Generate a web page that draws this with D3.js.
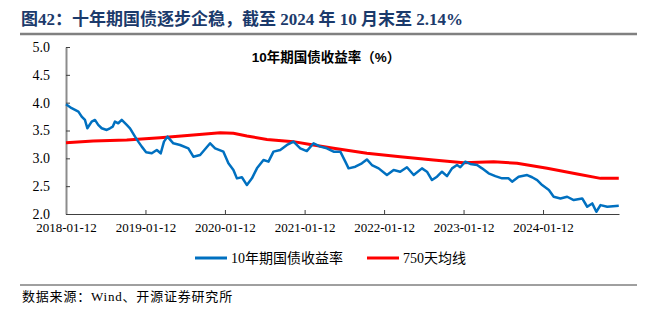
<!DOCTYPE html>
<html>
<head>
  <meta charset="UTF-8">
  <style>
    body { margin: 0; background: #fff; }
    svg { display: block; }
  </style>
</head>
<body>
<div id="chart_div"></div>
<script src="https://d3js.org/d3.v7.min.js"></script>
<script>

// ---- data ----
const yieldDates = ["2018-01-12","2018-02-07","2018-03-10","2018-03-25","2018-04-09","2018-04-20","2018-05-10","2018-05-25",
  "2018-06-09","2018-06-25","2018-07-18","2018-08-02","2018-08-15","2018-08-25","2018-09-09","2018-09-25","2018-10-18",
  "2018-11-02","2018-11-25","2018-12-10","2018-12-26","2019-01-15","2019-02-10","2019-03-05","2019-03-23","2019-04-07",
  "2019-04-23","2019-05-20","2019-06-20","2019-07-28","2019-08-20","2019-09-20","2019-11-05","2019-11-28","2020-01-05",
  "2020-01-28","2020-02-20","2020-03-07","2020-03-30","2020-04-22","2020-05-15","2020-06-07","2020-07-07","2020-07-30",
  "2020-08-22","2020-09-22","2020-10-23","2020-11-22","2020-12-23","2021-01-22","2021-02-22","2021-03-25","2021-04-24",
  "2021-05-25","2021-06-25","2021-07-18","2021-08-02","2021-09-02","2021-10-02","2021-10-25","2021-11-17","2021-12-18",
  "2022-01-25","2022-02-25","2022-03-27","2022-04-27","2022-05-28","2022-07-05","2022-07-28","2022-08-20","2022-09-12",
  "2022-10-05","2022-10-28","2022-11-20","2022-12-13","2022-12-28","2023-01-20","2023-02-12","2023-03-15","2023-04-07",
  "2023-05-07","2023-06-07","2023-07-08","2023-08-07","2023-08-23","2023-09-22","2023-10-31","2023-11-23","2023-12-16",
  "2024-01-08","2024-02-08","2024-03-01","2024-04-01","2024-05-02","2024-06-01","2024-07-10","2024-08-02","2024-08-25",
  "2024-09-13","2024-10-02","2024-11-02","2024-12-25"];
const yieldValues = [3.97,3.90,3.84,3.75,3.69,3.54,3.66,3.69,
  3.60,3.54,3.51,3.54,3.57,3.66,3.63,3.69,3.60,
  3.54,3.39,3.30,3.21,3.11,3.09,3.15,3.09,3.30,
  3.39,3.27,3.24,3.18,3.03,3.06,3.27,3.18,3.12,
  2.91,2.79,2.64,2.66,2.52,2.64,2.82,2.97,2.94,
  3.12,3.15,3.24,3.30,3.18,3.13,3.27,3.21,3.18,
  3.12,3.12,2.94,2.82,2.85,2.91,2.98,2.88,2.82,
  2.70,2.79,2.76,2.84,2.70,2.82,2.76,2.61,2.67,
  2.76,2.68,2.82,2.88,2.84,2.94,2.90,2.88,2.82,
  2.73,2.68,2.64,2.64,2.58,2.67,2.70,2.66,2.61,
  2.52,2.43,2.31,2.28,2.31,2.25,2.28,2.13,2.19,
  2.04,2.16,2.13,2.15];

const maDates = ["2018-01-12","2018-05-17","2018-10-18","2019-03-20","2019-08-20","2019-12-21","2020-02-20","2020-04-22",
  "2020-07-23","2020-11-22","2021-02-07","2021-05-25","2021-10-25","2022-03-27","2022-08-27","2023-01-12","2023-05-30",
  "2023-09-15","2024-01-31","2024-06-17","2024-10-02","2024-12-25"];
const maValues = [3.28,3.31,3.33,3.37,3.42,3.46,3.45,3.40,
  3.34,3.30,3.25,3.18,3.09,3.03,2.97,2.92,2.94,
  2.91,2.82,2.72,2.64,2.64];

const xTickLabels = ["2018-01-12","2019-01-12","2020-01-12","2021-01-12","2022-01-12","2023-01-12","2024-01-12"];
const yTicks = [2.0, 2.5, 3.0, 3.5, 4.0, 4.5, 5.0];
const seriesNames = ["10年期国债收益率", "750天均线"];

// ---- layout ----
let width = 652, height = 322;
const parse = d3.timeParse("%Y-%m-%d");
const fmt = d3.timeFormat("%Y-%m-%d");
const serif = "'Liberation Serif','Noto Sans CJK SC',serif";

let svg = d3.select("#chart_div")
  .append("svg")
  .attr("width", width)
  .attr("height", height);

// header
svg.append("text")
  .attr("x", 21).attr("y", 25)
  .style("font-family", serif)
  .style("font-weight", "bold")
  .style("font-size", "17px")
  .attr("fill", "#1b3a6b")
  .text("图42：十年期国债逐步企稳，截至 2024 年 10 月末至 2.14%");
svg.append("line")
  .attr("x1", 20).attr("x2", 637).attr("y1", 34).attr("y2", 34)
  .attr("stroke", "#808080").attr("stroke-width", 2.5);

// scales
let x = d3.scaleTime()
  .domain([parse("2018-01-12"), parse("2024-12-26")])
  .range([66, 619]);
let y = d3.scaleLinear()
  .domain([2.0, 5.0])
  .range([214, 47]);

// chart title
svg.append("text")
  .attr("x", 326).attr("y", 62)
  .attr("text-anchor", "middle")
  .style("font-family", "'Liberation Sans','Noto Sans CJK SC',sans-serif")
  .style("font-weight", "bold")
  .style("font-size", "13.5px")
  .text("10年期国债收益率（%）");

// axes
let xAxis = svg.append("g")
  .attr("transform", "translate(0,214)")
  .call(d3.axisBottom(x)
    .tickValues(xTickLabels.map(parse))
    .tickFormat(fmt)
    .tickSizeInner(-4)
    .tickSizeOuter(0)
    .tickPadding(9));
xAxis.select(".domain").attr("stroke", "#404040");
xAxis.selectAll(".tick line").attr("stroke", "#404040");
xAxis.selectAll("text")
  .style("font-family", serif)
  .style("font-size", "13px")
  .attr("fill", "#000");

let yAxis = svg.append("g")
  .attr("transform", "translate(66,0)")
  .call(d3.axisLeft(y)
    .tickValues(yTicks)
    .tickFormat(d3.format(".1f"))
    .tickSizeInner(-4)
    .tickSizeOuter(0)
    .tickPadding(16));
yAxis.select(".domain").attr("stroke", "#8c8c8c").attr("stroke-width", 2);
yAxis.selectAll(".tick line").attr("stroke", "#404040");
yAxis.selectAll("text")
  .style("font-family", serif)
  .style("font-size", "14px")
  .attr("fill", "#000");

// lines
const yieldData = yieldDates.map((d, i) => ({ date: parse(d), value: yieldValues[i] }));
const maData = maDates.map((d, i) => ({ date: parse(d), value: maValues[i] }));

let line = d3.line()
  .x(d => x(d.date))
  .y(d => y(d.value));

svg.append("path")
  .datum(maData)
  .attr("fill", "none")
  .attr("stroke", "#ff0000")
  .attr("stroke-width", 3)
  .attr("d", line);

svg.append("path")
  .datum(yieldData)
  .attr("fill", "none")
  .attr("stroke", "#0070c0")
  .attr("stroke-width", 2.5)
  .attr("stroke-linejoin", "round")
  .attr("d", line);

// legend
const legendColors = ["#0070c0", "#ff0000"];
const legendX = [195, 367];
let legend = svg.append("g").selectAll("g")
  .data(seriesNames)
  .enter().append("g")
  .attr("transform", (d, i) => "translate(" + legendX[i] + ",258)");
legend.append("line")
  .attr("x1", 0).attr("x2", 32)
  .attr("stroke", (d, i) => legendColors[i])
  .attr("stroke-width", 3);
legend.append("text")
  .attr("x", 36).attr("y", 5)
  .style("font-family", serif)
  .style("font-size", "14px")
  .text(d => d);

// footer
svg.append("line")
  .attr("x1", 20).attr("x2", 637).attr("y1", 285).attr("y2", 285)
  .attr("stroke", "#404040").attr("stroke-width", 1);
svg.append("text")
  .attr("x", 22).attr("y", 301)
  .style("font-family", serif)
  .style("font-size", "13px")
  .style("letter-spacing", "0.8px")
  .text("数据来源：Wind、开源证券研究所");

</script>
</body>
</html>
